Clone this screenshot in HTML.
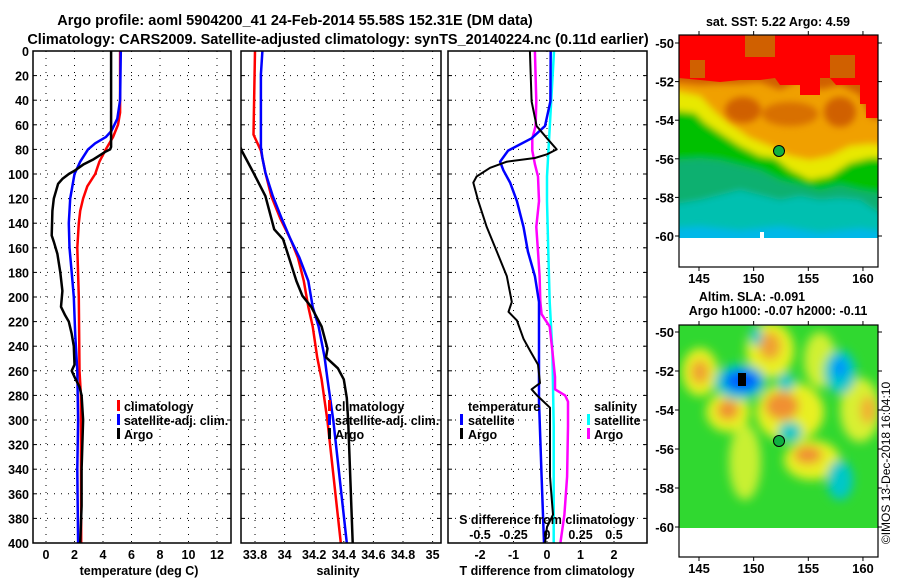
<!DOCTYPE html>
<html><head><meta charset="utf-8">
<style>
html,body{margin:0;padding:0;background:#fff;}
svg{display:block;font-family:"Liberation Sans",Arial,sans-serif;font-weight:bold;}
text{fill:#000;}
</style></head>
<body>
<svg id="chart" width="900" height="580" viewBox="0 0 900 580" xmlns="http://www.w3.org/2000/svg">
<defs>
<clipPath id="p1c"><rect x="33" y="51" width="198" height="492"/></clipPath>
<clipPath id="p2c"><rect x="241" y="51" width="200" height="492"/></clipPath>
<clipPath id="p3c"><rect x="448" y="51" width="199" height="492"/></clipPath>
<clipPath id="m1c"><rect x="679" y="35" width="199" height="203"/></clipPath>
<clipPath id="m2c"><rect x="679" y="325" width="199" height="203"/></clipPath>
<filter id="bl" x="-30%" y="-30%" width="160%" height="160%"><feGaussianBlur stdDeviation="3.5"/></filter>
<filter id="bl2" x="-50%" y="-50%" width="200%" height="200%"><feGaussianBlur stdDeviation="5"/></filter>
</defs>

<text x="295" y="25" font-size="14.5" text-anchor="middle">Argo profile: aoml 5904200_41 24-Feb-2014 55.58S 152.31E (DM data)</text>
<text x="338" y="44" font-size="14.5" text-anchor="middle">Climatology: CARS2009. Satellite-adjusted climatology: synTS_20140224.nc (0.11d earlier)</text>

<g id="grid"></g>
<g id="series"></g>
<g id="frames"></g>
<g id="labels"></g>

<g font-size="12.5">
<rect x="117" y="400" width="3" height="11" fill="#f00"/><text x="124" y="411">climatology</text>
<rect x="117" y="414" width="3" height="11" fill="#00f"/><text x="124" y="425">satellite-adj. clim.</text>
<rect x="117" y="428" width="3" height="11" fill="#000"/><text x="124" y="439">Argo</text>
</g>
<g font-size="12.5">
<rect x="328" y="400" width="3" height="11" fill="#f00"/><text x="335" y="411">climatology</text>
<rect x="328" y="414" width="3" height="11" fill="#00f"/><text x="335" y="425">satellite-adj. clim.</text>
<rect x="328" y="428" width="3" height="11" fill="#000"/><text x="335" y="439">Argo</text>
</g>
<g font-size="12.5">
<text x="468" y="411">temperature</text>
<rect x="460" y="414" width="3" height="11" fill="#00f"/><text x="468" y="425">satellite</text>
<rect x="460" y="428" width="3" height="11" fill="#000"/><text x="468" y="439">Argo</text>
<text x="594" y="411">salinity</text>
<rect x="587" y="414" width="3" height="11" fill="#0ff"/><text x="594" y="425">satellite</text>
<rect x="587" y="428" width="3" height="11" fill="#f0f"/><text x="594" y="439">Argo</text>
</g>
<text x="547" y="524" font-size="12.5" text-anchor="middle">S difference from climatology</text>
<text x="139" y="575" font-size="12.5" text-anchor="middle">temperature (deg C)</text>
<text x="338" y="575" font-size="12.5" text-anchor="middle">salinity</text>
<text x="547" y="575" font-size="12.5" text-anchor="middle">T difference from climatology</text>

<!-- SST map -->
<text x="778" y="26" font-size="12.5" text-anchor="middle">sat. SST: 5.22 Argo: 4.59</text>
<g clip-path="url(#m1c)">
<rect x="679" y="35" width="199" height="203" fill="#00b8e8"/>
<g filter="url(#bl)">
<path d="M670 30 H890 V232 L860 228 L820 232 L780 226 L740 230 L700 226 L670 228 Z" fill="#00c0b0"/>
<path d="M670 30 H890 V220 L860 200 L840 198 L820 200 L800 196 L780 200 L760 195 L740 190 L720 195 L700 200 L670 205 Z" fill="#10b070"/>
<path d="M670 30 H890 V195 L860 190 L840 185 L820 190 L800 185 L780 180 L760 170 L740 165 L720 160 L700 158 L670 160 Z" fill="#00c000"/>
<path d="M670 30 H890 V158 L870 158 L850 163 L830 176 L810 180 L790 170 L775 158 L760 156 L740 146 L720 133 L705 123 L695 113 L670 110 Z" fill="#e8e800"/>
<path d="M670 30 H890 V146 L870 144 L850 146 L830 156 L810 160 L790 156 L770 146 L750 138 L730 124 L715 112 L700 96 L670 90 Z" fill="#f0a000"/>
</g>
<g filter="url(#bl)">
<ellipse cx="743" cy="110" rx="18" ry="13" fill="#d06000"/>
<ellipse cx="840" cy="112" rx="16" ry="15" fill="#d06000"/>
<ellipse cx="790" cy="114" rx="28" ry="12" fill="#d87000"/>
<path d="M670 30 H890 V120 L870 118 L860 95 L840 85 L820 90 L800 80 L780 90 L760 82 L740 84 L720 84 L700 85 L670 82 Z" fill="#d06000"/>
</g>
<path d="M679 35 H878 V118 L866 118 L866 104 L860 104 L860 85 L836 85 L830 78 L820 78 L820 95 L800 95 L800 85 L780 85 L775 78 L760 80 L740 80 L720 82 L700 80 L679 78 Z" fill="#ff0000"/>
<rect x="745" y="35" width="30" height="22" fill="#d06000"/>
<rect x="690" y="60" width="15" height="18" fill="#d06000"/>
<rect x="830" y="55" width="25" height="23" fill="#d06000"/>
<rect x="760" y="232" width="4" height="6" fill="#fff"/>
</g>
<circle cx="779" cy="151" r="5.5" fill="#10b040" stroke="#000" stroke-width="1"/>

<!-- SLA map -->
<text x="752" y="301" font-size="12.5" text-anchor="middle">Altim. SLA: -0.091</text>
<text x="778" y="315" font-size="12.5" text-anchor="middle">Argo h1000: -0.07 h2000: -0.11</text>
<g clip-path="url(#m2c)">
<rect x="679" y="325" width="199" height="203" fill="#30d830"/>
<g filter="url(#bl2)">
<ellipse cx="700" cy="372" rx="18" ry="24" fill="#e8f020"/>
<ellipse cx="770" cy="350" rx="24" ry="28" fill="#e8f020"/>
<ellipse cx="790" cy="412" rx="34" ry="30" fill="#e8f020"/>
<ellipse cx="728" cy="412" rx="22" ry="20" fill="#e8f020"/>
<ellipse cx="812" cy="460" rx="28" ry="20" fill="#e8f020"/>
<ellipse cx="860" cy="410" rx="20" ry="32" fill="#d8f030"/>
<ellipse cx="820" cy="360" rx="16" ry="28" fill="#d0f030"/>
<ellipse cx="745" cy="462" rx="16" ry="38" fill="#c8f030"/>
<ellipse cx="700" cy="372" rx="9" ry="12" fill="#f0a030"/>
<ellipse cx="770" cy="346" rx="11" ry="14" fill="#f0a030"/>
<ellipse cx="728" cy="410" rx="11" ry="10" fill="#f09030"/>
<ellipse cx="782" cy="406" rx="17" ry="14" fill="#f09030"/>
<ellipse cx="808" cy="455" rx="14" ry="9" fill="#f09030"/>
<ellipse cx="868" cy="410" rx="8" ry="14" fill="#f0b030"/>
<ellipse cx="740" cy="382" rx="26" ry="18" fill="#00c8c8"/>
<ellipse cx="840" cy="372" rx="16" ry="22" fill="#00c8c8"/>
<ellipse cx="790" cy="432" rx="12" ry="10" fill="#00c8c8"/>
<ellipse cx="840" cy="480" rx="13" ry="20" fill="#00c8c8"/>
<ellipse cx="786" cy="382" rx="9" ry="9" fill="#00c8c8"/>
<ellipse cx="756" cy="336" rx="6" ry="10" fill="#00c8c8"/>
<ellipse cx="742" cy="381" rx="18" ry="11" fill="#0060ff"/>
<ellipse cx="840" cy="368" rx="7" ry="10" fill="#0090ff"/>
</g>
<rect x="738" y="373" width="8" height="13" fill="#000"/>
<circle cx="779" cy="441" r="5.5" fill="#10b040" stroke="#000" stroke-width="1"/>
</g>
<text transform="translate(890,463) rotate(-90)" font-size="12" font-weight="normal" text-anchor="middle">©IMOS 13-Dec-2018 16:04:10</text>

<g id="maps-axes"></g>

<script>
// ---- data ----
const tClimDepth = [0,50,60,70,80,90,100,110,120,130,140,160,200,260,280,400];
const tClimVal   = [5.2,5.2,5.05,4.7,4.2,3.75,3.45,2.9,2.6,2.4,2.3,2.2,2.3,2.35,2.45,2.47];
const tSatDepth = [0,40,55,65,70,75,80,90,100,120,140,160,180,200,230,260,300,340,400];
const tSatVal   = [5.25,5.2,5.0,4.6,4.2,3.45,2.95,2.4,2.0,1.7,1.6,1.65,1.8,1.95,2.05,2.2,2.25,2.2,2.25];
const tArgoDepth = [0,78,80,82,88,92,97,100,104,108,120,130,150,155,165,180,195,208,215,220,230,240,255,260,265,273,280,300,340,370,400];
const tArgoVal   = [4.57,4.57,4.5,4.15,3.35,2.65,2.05,1.6,1.15,0.85,0.55,0.45,0.4,0.55,0.8,1.0,1.15,1.05,1.35,1.6,1.8,1.95,2.0,1.8,2.0,2.35,2.5,2.6,2.5,2.5,2.4];
const sClimDepth = [0,68,81,99,118,136,153,168,187,208,224,249,267,301,400];
const sClimVal   = [33.80,33.79,33.84,33.87,33.91,33.97,34.04,34.09,34.13,34.16,34.19,34.22,34.25,34.29,34.38];
const sSatDepth = [0,19,78,87,99,118,136,153,168,187,208,224,249,267,301,400];
const sSatVal   = [33.85,33.84,33.84,33.85,33.87,33.92,33.98,34.04,34.10,34.16,34.19,34.23,34.27,34.29,34.33,34.42];
const sArgoDepth = [0,78,81,99,118,136,145,153,168,187,199,208,224,242,249,258,267,282,301,400];
const sArgoVal   = [33.70,33.70,33.71,33.79,33.87,33.91,33.93,33.99,34.03,34.08,34.12,34.18,34.25,34.29,34.28,34.36,34.40,34.42,34.43,34.46];
const dtSatDepth = [0,41,61,71,81,90,97,107,122,143,163,183,204,244,285,346,400];
const dtSatVal   = [0.11,0.1,-0.06,-0.46,-1.16,-1.4,-1.3,-1.1,-0.9,-0.7,-0.57,-0.36,-0.24,-0.24,-0.24,-0.16,-0.09];
const dtArgoDepth = [0,41,61,71,80,84,87,90,95,102,107,122,143,163,183,204,212,219,234,244,255,270,275,280,290,305,346,377,387,400];
const dtArgoVal   = [-0.51,-0.46,-0.31,0,0.29,0,-0.36,-1.2,-1.7,-2.1,-2.2,-2.05,-1.8,-1.5,-1.2,-1.05,-1.15,-0.9,-0.7,-0.5,-0.27,-0.21,-0.46,-0.3,0.09,0.09,0.09,0.18,0.0,-0.06];
const dsSatDepth = [0,102,122,163,204,244,305,400];
const dsSatVal   = [0.052,0.0,0.0,0.01,0.02,0.04,0.05,0.05];
const dsArgoDepth = [0,41,61,71,81,92,102,122,143,163,183,204,214,224,244,265,275,280,285,305,346,377,400];
const dsArgoVal   = [-0.09,-0.08,-0.085,-0.11,-0.11,-0.09,-0.067,-0.06,-0.08,-0.067,-0.055,-0.05,-0.04,0.02,0.04,0.06,0.06,0.135,0.157,0.157,0.15,0.13,0.1];
const depthTicks = [0,20,40,60,80,100,120,140,160,180,200,220,240,260,280,300,320,340,360,380,400];
const tTicks = [0,2,4,6,8,10,12];
const sTicks = [33.8,34,34.2,34.4,34.6,34.8,35];
const sTickLabels = ["33.8","34","34.2","34.4","34.6","34.8","35"];
const dtTicks = [-2,-1,0,1,2];
const dsTicks = [-0.5,-0.25,0,0.25,0.5];
const dsTickLabels = ["-0.5","-0.25","0","0.25","0.5"];
const lonTicks = [145,150,155,160];
const latTicks = [-50,-52,-54,-56,-58,-60];

// ---- scales ----
const yD = d => 51 + d*1.23;
const xT = t => 46 + t*14.25;
const xS = s => 255 + (s-33.8)*148;
const xDT = v => 547 + v*33.5;
const xDS = v => 547 + v*134;
const mapX = lon => 699 + (lon-145)*10.93;
const mapY1 = lat => 43 + (-50-lat)*19.3;
const mapY2 = lat => 332 + (-50-lat)*19.5;

const NS = "http://www.w3.org/2000/svg";
function mk(tag, attrs, parent){
  const e = document.createElementNS(NS, tag);
  for (const k in attrs) e.setAttribute(k, attrs[k]);
  parent.appendChild(e);
  return e;
}
const grid = document.getElementById('grid');
const series = document.getElementById('series');
const frames = document.getElementById('frames');
const labels = document.getElementById('labels');
const mapsAxes = document.getElementById('maps-axes');

const panels = [
  {x0:33,x1:231,ticks:tTicks,fx:xT,lab:tTicks.map(String),name:'temperature'},
  {x0:241,x1:441,ticks:sTicks,fx:xS,lab:sTickLabels,name:'salinity'},
  {x0:448,x1:647,ticks:dtTicks,fx:xDT,lab:dtTicks.map(String),name:'t-difference'}
];
panels.forEach((p,pi)=>{
  depthTicks.forEach(d=>{
    if (d===0||d===400) return;
    const gl = mk('line',{x1:p.x0,x2:p.x1,y1:yD(d),y2:yD(d),stroke:'#000','stroke-width':1,'stroke-dasharray':'1 6'},grid);
    
    
    const tk1 = mk('line',{x1:p.x0,x2:p.x0+4,y1:yD(d),y2:yD(d),stroke:'#000','stroke-width':1},grid);
    
    
    const tk2 = mk('line',{x1:p.x1-4,x2:p.x1,y1:yD(d),y2:yD(d),stroke:'#000','stroke-width':1},grid);
    
    
  });
  p.ticks.forEach((t,i)=>{
    const x = p.fx(t);
    const vl = mk('line',{x1:x,x2:x,y1:51,y2:543,stroke:'#000','stroke-width':1,'stroke-dasharray':'1 6'},grid);
    
    
    if (x < p.x1-4) {
      const tl = mk('text',{x:x,y:559,'font-size':12.5,'text-anchor':'middle'},labels);
      tl.textContent = p.lab[i];
      
      
    }
  });
  const fr = mk('rect',{x:p.x0,y:51,width:p.x1-p.x0,height:492,fill:'none',stroke:'#000','stroke-width':1.5},frames);
  
  
});
depthTicks.forEach(d=>{
  const tl = mk('text',{x:29,y:yD(d)+5,'font-size':12.5,'text-anchor':'end'},labels);
  tl.textContent = String(d);
  
  
});
dsTicks.forEach((v,i)=>{
  const tl = mk('text',{x:xDS(v),y:539,'font-size':12.5,'text-anchor':'middle'},labels);
  tl.textContent = dsTickLabels[i];
  
  
});

function line(depths, vals, fx, color, w, clip, name){
  const pts = depths.map((d,i)=>fx(vals[i]).toFixed(1)+','+yD(d).toFixed(1)).join(' ');
  const pl = mk('polyline',{points:pts,fill:'none',stroke:color,'stroke-width':w,'clip-path':'url(#'+clip+')','stroke-linejoin':'round'},series);
  
  
}
line(tClimDepth,tClimVal,xT,'#f00',2.5,'p1c','temperature-climatology-line');
line(tSatDepth,tSatVal,xT,'#00f',2.5,'p1c','temperature-satellite-line');
line(tArgoDepth,tArgoVal,xT,'#000',2.5,'p1c','temperature-argo-line');
line(sClimDepth,sClimVal,xS,'#f00',2.5,'p2c','salinity-climatology-line');
line(sSatDepth,sSatVal,xS,'#00f',2.5,'p2c','salinity-satellite-line');
line(sArgoDepth,sArgoVal,xS,'#000',2.5,'p2c','salinity-argo-line');
line(dsSatDepth,dsSatVal,xDS,'#0ff',2.5,'p3c','salinity-difference-satellite-line');
line(dsArgoDepth,dsArgoVal,xDS,'#f0f',2.5,'p3c','salinity-difference-argo-line');
line(dtSatDepth,dtSatVal,xDT,'#00f',2.5,'p3c','temperature-difference-satellite-line');
line(dtArgoDepth,dtArgoVal,xDT,'#000',2,'p3c','temperature-difference-argo-line');

[[35,267,mapY1,'sst'],[325,557,mapY2,'sla']].forEach(m=>{
  const fr = mk('rect',{x:679,y:m[0],width:199,height:m[1]-m[0],fill:'none',stroke:'#000','stroke-width':1.2},mapsAxes);
  
  
  lonTicks.forEach(lon=>{
    const x = mapX(lon);
    mk('line',{x1:x,x2:x,y1:m[0]-4,y2:m[0],stroke:'#000'},mapsAxes);
    mk('line',{x1:x,x2:x,y1:m[1],y2:m[1]+4,stroke:'#000'},mapsAxes);
    const tl = mk('text',{x:x,y:m[1]+16,'font-size':13,'text-anchor':'middle'},mapsAxes);
    tl.textContent = String(lon);
    
    
  });
  latTicks.forEach(lat=>{
    const y = m[2](lat);
    mk('line',{x1:675,x2:679,y1:y,y2:y,stroke:'#000'},mapsAxes);
    mk('line',{x1:878,x2:882,y1:y,y2:y,stroke:'#000'},mapsAxes);
    const tl = mk('text',{x:674,y:y+5,'font-size':13,'text-anchor':'end'},mapsAxes);
    tl.textContent = String(lat);
    
    
  });
});
</script>
</svg>
</body></html>
